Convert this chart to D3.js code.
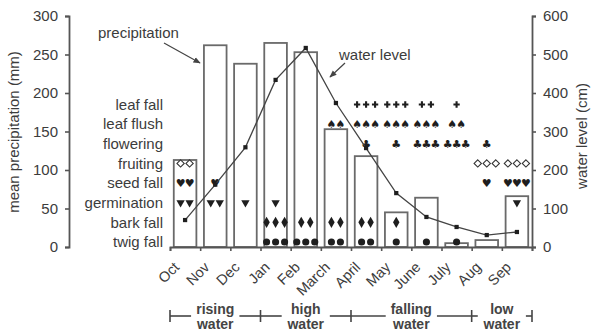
<!DOCTYPE html>
<html>
<head>
<meta charset="utf-8">
<script src="https://cdn.jsdelivr.net/npm/d3@7.9.0/dist/d3.min.js"></script>
<style>
  body { margin: 0; background: #fff; }
  svg { display: block; font-family: "Liberation Sans", Arial, sans-serif; }
  text { fill: #3c3c3c; }
</style>
</head>
<body>
<svg id="chart" width="591" height="333"></svg>
<script>
// months, Oct -> Sep
const months = ["Oct", "Nov", "Dec", "Jan", "Feb", "March", "April", "May", "June", "July", "Aug", "Sep"];
const precipitation = [113, 262, 238, 265, 253, 153, 118, 45, 64, 5, 9, 66];   // mm
const waterLevel = [70, 162, 259, 434, 517, 374, 257, 140, 78, 52, 31, 39];    // cm

const leftTicks = [0, 50, 100, 150, 200, 250, 300];
const rightTicks = [0, 100, 200, 300, 400, 500, 600];

// phenology: number of symbols per month
const phenoRows = ["leaf fall", "leaf flush", "flowering", "fruiting", "seed fall", "germination", "bark fall", "twig fall"];
const leafFall    = [0, 0, 0, 0, 0, 0, 3, 3, 2, 1, 0, 0];
const leafFlush   = [0, 0, 0, 0, 0, 2, 3, 3, 3, 2, 0, 0];
const flowering   = [0, 0, 0, 0, 0, 0, 1, 1, 3, 3, 1, 0];
const fruiting    = [2, 0, 0, 0, 0, 0, 0, 0, 0, 0, 3, 3];
const seedFall    = [2, 1, 0, 0, 0, 0, 0, 0, 0, 0, 1, 3];
const germination = [2, 2, 1, 1, 0, 0, 0, 0, 0, 0, 0, 1];
const barkFall    = [0, 0, 0, 3, 2, 2, 2, 1, 0, 0, 0, 0];
const twigFall    = [0, 0, 0, 3, 3, 2, 2, 1, 1, 1, 0, 0];

const phases = ["rising water", "high water", "falling water", "low water"];
const phaseStart = [0, 3, 6, 10];
const phaseEnd = [3, 6, 10, 12];

const svg = d3.select("#chart");
const ink = "#3c3c3c";

const x = d3.scaleBand().domain(months).range([170, 532]).paddingInner(0.25).paddingOuter(0.125);
const xEdge = d3.scaleLinear().domain([0, 12]).range([170, 532]);
const y = d3.scaleLinear().domain([0, 300]).range([247, 16]);
const yR = d3.scaleLinear().domain([0, 600]).range([247, 16]);
const rowY = d3.scalePoint().domain(phenoRows).range([104.5, 242]);
const cx = m => x(m) + x.bandwidth() / 2;

// bars
svg.append("g").selectAll("rect")
  .data(months)
  .join("rect")
  .attr("x", m => x(m))
  .attr("y", (m, i) => y(precipitation[i]))
  .attr("width", x.bandwidth())
  .attr("height", (m, i) => y(0) - y(precipitation[i]))
  .attr("fill", "#fff")
  .attr("stroke", "#6a6a6a")
  .attr("stroke-width", 1.8);

// axes
function styleAxis(g) {
  g.select(".domain").attr("stroke", "#555").attr("stroke-width", 1.8);
  g.selectAll(".tick line").attr("stroke", "#555").attr("stroke-width", 1.6);
  g.selectAll(".tick text").attr("fill", ink).style("font-size", "15px");
}
svg.append("g").attr("transform", "translate(69,0)")
  .call(d3.axisLeft(y).tickValues(leftTicks).tickSize(4).tickSizeOuter(4).tickPadding(7))
  .call(styleAxis);
svg.append("g").attr("transform", "translate(532,0)")
  .call(d3.axisRight(yR).tickValues(rightTicks).tickSize(4).tickSizeOuter(4).tickPadding(7))
  .call(styleAxis);
svg.append("g").attr("transform", "translate(0,247)")
  .call(d3.axisBottom(xEdge).tickValues(d3.range(13)).tickFormat("").tickSize(4).tickSizeOuter(4))
  .call(styleAxis);

// month labels
svg.append("g").selectAll("text")
  .data(months)
  .join("text")
  .attr("transform", m => `translate(${cx(m) - 10},${263}) rotate(-45)`)
  .attr("text-anchor", "end")
  .attr("dy", "0.5em")
  .style("font-size", "14.5px")
  .text(m => m);

// axis titles
svg.append("text")
  .attr("transform", "translate(19,132) rotate(-90)")
  .attr("text-anchor", "middle")
  .style("font-size", "15px")
  .text("mean precipitation (mm)");
svg.append("text")
  .attr("transform", "translate(587,136) rotate(-90)")
  .attr("text-anchor", "middle")
  .style("font-size", "15px")
  .text("water level (cm)");

// phenology row labels
svg.append("g").selectAll("text")
  .data(phenoRows)
  .join("text")
  .attr("x", 163)
  .attr("y", r => rowY(r))
  .attr("dy", "0.35em")
  .attr("text-anchor", "end")
  .style("font-size", "15px")
  .text(r => r);

// phenology symbols
const rowCounts = [leafFall, leafFlush, flowering, fruiting, seedFall, germination, barkFall, twigFall];
const rowGlyph = [
  { type: d3.symbolCross, size: 22 },
  { char: "\u2660" },
  { char: "\u2663" },
  { type: d3.symbolDiamond2, size: 34, open: true },
  { char: "\u2665" },
  { type: d3.symbolTriangle, size: 30, rotate: 180 },
  { type: d3.symbolDiamond, size: 36 },
  { type: d3.symbolCircle, size: 40 }
];
const marks = [];
phenoRows.forEach((r, ri) => {
  months.forEach((m, mi) => {
    const n = rowCounts[ri][mi];
    for (let k = 0; k < n; k++) {
      marks.push({ ri, x: cx(m) + (k - (n - 1) / 2) * 9, y: rowY(r) });
    }
  });
});
const symG = svg.append("g");
symG.selectAll("path")
  .data(marks.filter(d => rowGlyph[d.ri].type))
  .join("path")
  .attr("d", d => d3.symbol(rowGlyph[d.ri].type, rowGlyph[d.ri].size)())
  .attr("transform", d => `translate(${d.x},${d.y}) rotate(${rowGlyph[d.ri].rotate || 0})`)
  .attr("fill", d => rowGlyph[d.ri].open ? "#fff" : "#1e1e1e")
  .attr("stroke", d => rowGlyph[d.ri].open ? "#333" : "none")
  .attr("stroke-width", 1.1);
symG.selectAll("text")
  .data(marks.filter(d => rowGlyph[d.ri].char))
  .join("text")
  .attr("x", d => d.x)
  .attr("y", d => d.y)
  .attr("dy", "0.36em")
  .attr("text-anchor", "middle")
  .style("font-family", "DejaVu Sans")
  .style("font-size", "11px")
  .style("fill", "#1e1e1e")
  .text(d => rowGlyph[d.ri].char);

// water level line
const line = d3.line().x((d, i) => cx(months[i])).y(d => yR(d));
svg.append("path")
  .datum(waterLevel)
  .attr("d", line)
  .attr("fill", "none")
  .attr("stroke", "#444")
  .attr("stroke-width", 1.3);
svg.append("g").selectAll("path")
  .data(waterLevel)
  .join("path")
  .attr("d", d3.symbol(d3.symbolSquare, 18))
  .attr("transform", (d, i) => `translate(${cx(months[i])},${yR(d)})`)
  .attr("fill", "#1e1e1e");

// annotations
svg.append("defs").append("marker")
  .attr("id", "arrow")
  .attr("viewBox", "0 0 10 10")
  .attr("refX", 9).attr("refY", 5)
  .attr("markerWidth", 6).attr("markerHeight", 6)
  .attr("orient", "auto")
  .append("path").attr("d", "M0,1 L10,5 L0,9 Z").attr("fill", "#444");

svg.append("text").attr("x", 98).attr("y", 38).style("font-size", "15px").text("precipitation");
svg.append("line")
  .attr("x1", 164).attr("y1", 43).attr("x2", 200).attr("y2", 63)
  .attr("stroke", "#444").attr("stroke-width", 1.2).attr("marker-end", "url(#arrow)");
svg.append("text").attr("x", 339).attr("y", 60).style("font-size", "15px").text("water level");
svg.append("line")
  .attr("x1", 345).attr("y1", 63).attr("x2", 330).attr("y2", 77)
  .attr("stroke", "#444").attr("stroke-width", 1.2).attr("marker-end", "url(#arrow)");

// hydrological phases
const phaseG = svg.append("g");
phases.forEach((p, i) => {
  const x0 = xEdge(phaseStart[i]), x1 = xEdge(phaseEnd[i]);
  const mid = (x0 + x1) / 2;
  const words = p.split(" ");
  const t = phaseG.append("text")
    .attr("text-anchor", "middle")
    .style("font-size", "14px")
    .style("font-weight", "bold")
    .style("fill", "#444");
  words.forEach((w, k) => {
    t.append("tspan").attr("x", mid).attr("y", 314 + k * 15).text(w);
  });
  const half = t.node().getBBox().width / 2 + 5;
  phaseG.append("line").attr("x1", x0).attr("x2", mid - half).attr("y1", 316).attr("y2", 316);
  phaseG.append("line").attr("x1", mid + half).attr("x2", x1).attr("y1", 316).attr("y2", 316);
});
phaseG.selectAll(".edge")
  .data(d3.range(13).filter(i => phaseStart.includes(i) || i === 12))
  .join("line")
  .attr("x1", i => xEdge(i)).attr("x2", i => xEdge(i))
  .attr("y1", 310).attr("y2", 322);
phaseG.selectAll("line").attr("stroke", "#444").attr("stroke-width", 1.6);
</script>
</body>
</html>
